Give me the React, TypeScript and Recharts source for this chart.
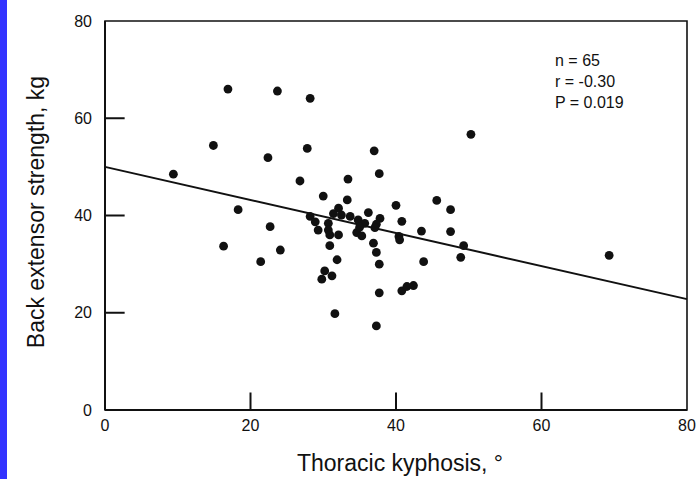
import { ScatterChart, Scatter, XAxis, YAxis, ReferenceLine, ReferenceArea } from "recharts";

// kyphosis angle (deg) and back extensor strength (kg)
const kyphosis = [
  9.4, 14.9, 16.9, 16.3, 18.3, 21.4, 22.4, 22.7, 23.7, 24.1,
  26.8, 27.8, 28.2, 30.0, 33.4, 33.3, 32.1, 32.5, 31.4, 28.2,
  28.9, 30.7, 33.7, 34.8, 35.7, 29.3, 30.7, 30.9, 32.1, 34.6,
  35.3, 36.9, 30.9, 37.0, 37.7, 37.8, 37.3, 37.1, 37.3, 37.7,
  37.7, 37.3, 31.9, 30.2, 31.2, 29.8, 31.6, 40.0, 40.8, 40.4,
  40.5, 43.5, 45.6, 47.5, 47.5, 49.3, 48.9, 43.8, 40.8, 41.5,
  42.4, 50.3, 69.3, 35.0, 36.2,
];
const strength = [
  48.5, 54.4, 66.0, 33.7, 41.2, 30.5, 51.9, 37.7, 65.6, 32.9,
  47.1, 53.8, 64.1, 44.0, 47.5, 43.2, 41.5, 40.1, 40.4, 39.8,
  38.7, 38.4, 39.8, 39.1, 38.4, 37.0, 37.0, 36.0, 36.0, 36.5,
  35.8, 34.3, 33.8, 53.3, 48.6, 39.4, 38.2, 37.5, 32.4, 30.0,
  24.1, 17.3, 30.9, 28.6, 27.6, 26.9, 19.8, 42.1, 38.8, 35.7,
  35.0, 36.8, 43.1, 41.2, 36.7, 33.8, 31.4, 30.5, 24.5, 25.4,
  25.6, 56.7, 31.8, 37.6, 40.6,
];

// fitted line endpoints
const fitX = [0, 80];
const fitY = [50, 22.8];

const axisTicks = [0, 20, 40, 60, 80];
const innerTicks = [20, 40, 60];
const stats = ["n = 65", "r = -0.30", "P = 0.019"];

// inner tick mark length, in axis units (~20px / ~18px)
const Y_TICK_LEN = 2.7;
const X_TICK_LEN = 3.6;

const FONT = "'Liberation Sans', Arial, Helvetica, sans-serif";
const INK = "#111";

const points = kyphosis.map((x, i) => ({ x, y: strength[i] }));

const tickFont = { fontSize: 16, fill: INK, fontFamily: FONT };

export default function App() {
  return (
    <div style={{ position: "absolute", left: 0, top: 0, width: 700, height: 479, background: "#fff", fontFamily: FONT }}>
      <ScatterChart width={700} height={479} margin={{ top: 21, right: 13, bottom: 9, left: 45 }}>
        <XAxis
          type="number"
          dataKey="x"
          domain={[0, 80]}
          ticks={axisTicks}
          tickSize={0}
          tickMargin={10}
          tickLine={false}
          tick={tickFont}
          axisLine={{ stroke: INK, strokeWidth: 2 }}
          height={60}
          label={{
            content: () => (
              <text x={400} y={471} textAnchor="middle" fontSize={23} fill={INK} fontFamily={FONT}>
                Thoracic kyphosis, °
              </text>
            ),
          }}
        />
        <YAxis
          type="number"
          dataKey="y"
          domain={[0, 80]}
          ticks={axisTicks}
          tickSize={0}
          tickMargin={13}
          tickLine={false}
          tick={tickFont}
          axisLine={{ stroke: INK, strokeWidth: 2 }}
          width={60}
          label={{
            content: () => (
              <text
                x={36}
                y={212}
                transform="rotate(-90 36 212)"
                textAnchor="middle"
                dominantBaseline="central"
                fontSize={23}
                fill={INK}
                fontFamily={FONT}
              >
                Back extensor strength, kg
              </text>
            ),
          }}
        />
        <ReferenceArea x1={0} x2={80} y1={0} y2={80} fill="none" fillOpacity={0} stroke={INK} strokeWidth={1.6} />
        {innerTicks.map((t) => (
          <ReferenceLine
            key={"y" + t}
            segment={[
              { x: 0, y: t },
              { x: Y_TICK_LEN, y: t },
            ]}
            stroke={INK}
            strokeWidth={2}
          />
        ))}
        {innerTicks.map((t) => (
          <ReferenceLine
            key={"x" + t}
            segment={[
              { x: t, y: 0 },
              { x: t, y: X_TICK_LEN },
            ]}
            stroke={INK}
            strokeWidth={2}
          />
        ))}
        <ReferenceLine
          segment={[
            { x: fitX[0], y: fitY[0] },
            { x: fitX[1], y: fitY[1] },
          ]}
          stroke={INK}
          strokeWidth={2}
        />
        <Scatter data={points} fill={INK} isAnimationActive={false} shape={(p: any) => <circle cx={p.cx} cy={p.cy} r={4.4} fill={INK} />} />
      </ScatterChart>
      <div style={{ position: "absolute", left: 0, top: 0, width: 7, height: 479, background: "#3333ff", zIndex: 2 }} />
      <div style={{ position: "absolute", left: 555, top: 50, fontSize: 16, lineHeight: "21px", color: INK, zIndex: 2 }}>
        {stats.map((s) => (
          <div key={s}>{s}</div>
        ))}
      </div>
    </div>
  );
}
